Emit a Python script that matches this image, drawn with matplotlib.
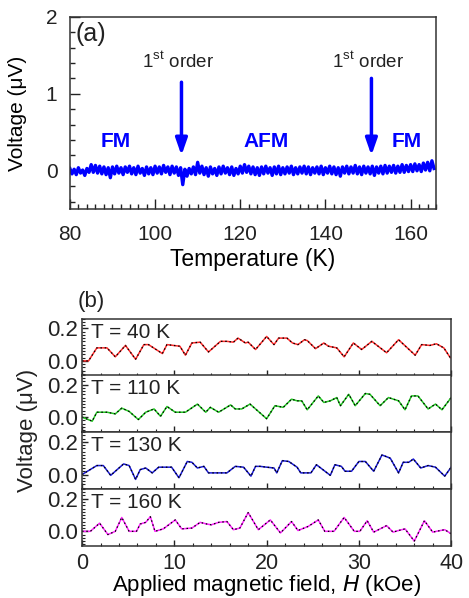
import numpy as np
import matplotlib.pyplot as plt
from matplotlib.ticker import MultipleLocator

plt.rcParams['font.family'] = ['Liberation Sans', 'DejaVu Sans']
plt.rcParams['text.color'] = '#222222'
plt.rcParams['xtick.color'] = '#222222'
plt.rcParams['ytick.color'] = '#222222'

# (a) voltage vs temperature, 0.5 K steps from 80 K
temp_start = 80.0
temp_step = 0.5
volt_T = [
    0.03, -0.04, 0.02, -0.05, 0.04, -0.03, 0.01, -0.06, 0.03, -0.02,
    0.08, -0.02, 0.07, -0.03, 0.06, -0.04, 0.05, -0.05, 0.04, -0.09,
    0.05, -0.04, 0.06, -0.03, 0.04, -0.05, 0.05, -0.02, 0.06, -0.04,
    0.04, -0.05, 0.06, -0.03, 0.03, -0.06, 0.05, -0.04, 0.04, -0.05,
    0.06, -0.03, 0.05, -0.04, 0.07, -0.02, 0.05, -0.05, 0.06, -0.03,
    0.05, -0.06, 0.04, -0.18, 0.02, -0.07, 0.03, -0.04, 0.05, -0.05,
    0.11, -0.03, 0.06, -0.05, 0.04, -0.07, 0.05, -0.04, 0.03, -0.06,
    0.05, -0.04, 0.06, -0.03, 0.04, -0.05, 0.05, -0.06, 0.03, -0.04,
    0.06, -0.03, 0.08, -0.02, 0.06, -0.04, 0.05, -0.05, 0.04, -0.06,
    0.05, -0.04, 0.06, -0.03, 0.04, -0.06, 0.05, -0.04, 0.06, -0.05,
    0.04, -0.04, 0.05, -0.03, 0.06, -0.05, 0.04, -0.04, 0.05, -0.03,
    0.06, -0.04, 0.05, -0.05, 0.04, -0.03, 0.05, -0.04, 0.06, -0.05,
    0.04, -0.03, 0.06, -0.04, 0.05, -0.05, 0.04, -0.07, 0.05, -0.03,
    0.06, -0.04, 0.05, -0.03, 0.07, -0.04, 0.05, -0.05, 0.06, -0.03,
    0.05, -0.04, 0.06, -0.06, 0.05, -0.03, 0.06, -0.04, 0.07, -0.03,
    0.06, -0.02, 0.07, -0.03, 0.06, -0.02, 0.08, -0.02, 0.07, -0.01,
    0.08, -0.01, 0.09, 0.00, 0.08, -0.01, 0.10, 0.01, 0.11, 0.00,
    0.13, 0.03,
]
temps = temp_start + temp_step * np.arange(len(volt_T))

# transitions and phase labels
trans_T = [106.2, 150.8]
phase_names = ['FM', 'AFM', 'FM']
phase_T = [90.8, 126.0, 159.0]

# (b) voltage vs field
H_40 = [0, 0.7, 1.6, 2.7, 3.6, 4.7, 5.8, 6.7, 7.2, 8.7, 9.2, 9.9, 10.6, 11.2, 11.9, 12.8,
        13.7, 15.0, 15.7, 16.4, 16.9, 17.7, 18.0, 18.8, 20.0, 20.8, 21.3, 22.2, 22.8, 23.4,
        24.1, 24.4, 25.3, 26.2, 26.7, 27.6, 28.4, 29.4, 30.3, 31.4, 33.0, 34.3, 36.1, 36.8,
        37.7, 38.4, 39.2, 39.9]
V_40 = [0.0, 0.0, 0.08, 0.08, 0.025, 0.095, 0.01, 0.10, 0.10, 0.045, 0.10, 0.095, 0.09, 0.035,
        0.11, 0.115, 0.055, 0.12, 0.12, 0.115, 0.14, 0.11, 0.115, 0.07, 0.15, 0.10, 0.14, 0.14,
        0.11, 0.10, 0.13, 0.125, 0.075, 0.11, 0.09, 0.08, 0.025, 0.11, 0.07, 0.12, 0.05, 0.13,
        0.035, 0.10, 0.095, 0.105, 0.08, 0.02]

H_110 = [0, 1.1, 1.6, 2.7, 3.6, 4.3, 5.1, 6.1, 6.9, 7.8, 8.5, 9.2, 10.1, 11.2, 12.5, 13.4,
         13.9, 14.8, 16.1, 16.6, 17.3, 18.2, 18.9, 20.0, 20.9, 21.8, 22.7, 23.3, 23.8, 24.4,
         25.6, 26.2, 26.9, 27.6, 28.0, 28.9, 29.6, 30.7, 31.2, 32.3, 33.2, 34.3, 35.0, 35.7,
         36.4, 37.5, 38.3, 39.0, 40.0]
V_110 = [0.0, -0.025, 0.03, 0.03, 0.02, 0.055, 0.035, -0.015, 0.03, 0.05, 0.005, 0.065, 0.03,
         0.03, 0.08, 0.03, 0.06, 0.03, 0.075, 0.05, 0.05, 0.08, 0.045, -0.01, 0.07, 0.06, 0.11,
         0.10, 0.10, 0.045, 0.13, 0.09, 0.10, 0.12, 0.07, 0.14, 0.07, 0.145, 0.14, 0.07, 0.12,
         0.10, 0.045, 0.13, 0.13, 0.05, 0.08, 0.045, 0.12]

H_130 = [0, 1.6, 2.3, 3.1, 4.5, 5.1, 5.8, 6.3, 6.9, 7.6, 8.3, 9.7, 10.5, 11.4, 11.9, 12.5,
         13.2, 13.7, 14.6, 15.7, 16.6, 17.5, 18.3, 18.8, 19.3, 20.0, 20.8, 21.1, 21.7, 22.4,
         23.3, 23.7, 24.8, 25.4, 26.9, 27.4, 28.1, 28.5, 29.2, 30.0, 30.7, 31.6, 32.5, 33.2,
         33.4, 34.3, 34.8, 35.4, 35.9, 36.7, 37.5, 38.3, 39.3, 40.0]
V_130 = [0.0, 0.055, 0.055, -0.005, 0.065, 0.055, -0.03, 0.03, 0.04, 0.01, 0.045, 0.045, -0.02,
         0.08, 0.075, 0.04, 0.05, 0.01, 0.01, 0.01, 0.05, 0.045, -0.01, 0.05, 0.05, 0.045, 0.04,
         0.01, 0.085, 0.08, 0.045, 0.01, 0.01, 0.06, -0.005, 0.06, 0.05, 0.02, 0.02, 0.08, 0.08,
         0.02, 0.12, 0.105, 0.10, 0.01, 0.075, 0.075, 0.095, 0.04, 0.055, 0.045, -0.01, 0.045]

H_160 = [0, 0.9, 1.9, 2.8, 3.6, 4.3, 5.1, 5.9, 6.3, 6.9, 7.4, 7.9, 8.8, 10.1, 10.8, 11.9,
         12.8, 13.5, 14.0, 14.8, 15.7, 16.4, 17.1, 18.0, 19.1, 20.4, 21.5, 22.7, 23.4, 24.5,
         25.6, 26.3, 27.3, 28.4, 29.5, 30.1, 30.9, 31.6, 33.0, 33.7, 34.3, 35.0, 36.0, 37.1,
         38.0, 38.4, 39.3, 40.0]
V_160 = [0.0, 0.0, 0.05, -0.02, 0.0, 0.085, 0.0, 0.0, 0.045, 0.055, 0.09, 0.0, 0.015, 0.07,
         0.015, 0.02, 0.055, 0.045, 0.04, 0.055, 0.06, 0.01, 0.02, 0.115, 0.01, 0.07, -0.01,
         0.06, 0.005, 0.03, 0.07, 0.0, 0.0, 0.085, 0.0, 0.0, 0.065, -0.005, 0.035, -0.005,
         0.005, 0.015, -0.06, 0.065, -0.005, 0.0, 0.01, -0.015]

panels = [
    ('T = 40 K', H_40, V_40, '#ff2a2a'),
    ('T = 110 K', H_110, V_110, '#22c822'),
    ('T = 130 K', H_130, V_130, '#1a1ad8'),
    ('T = 160 K', H_160, V_160, '#ff22ff'),
]

fig = plt.figure(figsize=(4.69, 5.98), dpi=100)

#%% panel (a)
ax = fig.add_axes([0.149, 0.650, 0.781, 0.322])
ax.plot(temps, volt_T, color='#0000ff', lw=2.4)
ax.set_xlim(80, 166)
ax.set_ylim(-0.5, 2)
ax.set_xticks([80, 100, 120, 140, 160])
ax.set_yticks([0, 1, 2])
ax.xaxis.set_minor_locator(MultipleLocator(2))
ax.yaxis.set_minor_locator(MultipleLocator(0.2))
ax.tick_params(which='both', direction='in', top=False, right=False, labelsize=15)
ax.tick_params(which='major', length=7, width=1)
ax.tick_params(which='minor', length=3.5, width=1)
ax.tick_params(axis='x', pad=11)
ax.tick_params(axis='y', pad=9)
for s in ax.spines.values():
    s.set_linewidth(1.1)
    s.set_color('#333333')
ax.set_xlabel('Temperature (K)', fontsize=16.5, labelpad=3)
ax.set_ylabel('Voltage (\u03bcV)', fontsize=15)
ax.yaxis.set_label_coords(-0.117, 0.5)
ax.text(0.015, 0.91, '(a)', transform=ax.transAxes, fontsize=18, va='center')

for t in trans_T:
    ax.annotate('', xy=(t, 0.2), xytext=(t, 1.15 if t < 130 else 1.2),
                arrowprops=dict(arrowstyle='-|>,head_width=0.35,head_length=1.0',
                                color='#0000ff', lw=2.5, shrinkA=0, shrinkB=0))
    ax.text(t - 0.8, 1.28, r'1$^{\mathregular{st}}$ order', fontsize=13.5,
            ha='center', va='bottom')

for name, t in zip(phase_names, phase_T):
    ax.text(t, 0.38, name, color='#0000ff', fontsize=15, fontweight='bold',
            ha='center', va='center')

#%% panel (b)
bottoms = [0.372, 0.278, 0.182, 0.087]
h = 0.0953
axes_b = []
for (label, H, V, col), b in zip(panels, bottoms):
    axb = fig.add_axes([0.175, b, 0.787, h])
    axb.plot(H, V, color=col, lw=1.1)
    axb.plot(H, V, color='black', lw=0.9, ls=(0, (1.2, 2.2)))
    axb.set_xlim(0, 40)
    axb.set_ylim(-0.09, 0.26)
    axb.set_yticks([0.0, 0.2])
    axb.set_yticklabels(['0.0', '0.2'])
    axb.yaxis.set_minor_locator(MultipleLocator(0.02))
    axb.set_xticks([0, 10, 20, 30, 40])
    axb.xaxis.set_minor_locator(MultipleLocator(2))
    axb.tick_params(which='both', direction='in', top=False, right=False, labelsize=16)
    axb.tick_params(which='major', length=4, width=1)
    axb.tick_params(which='minor', length=2.5, width=0.8)
    axb.tick_params(axis='y', pad=3)
    for s in axb.spines.values():
        s.set_linewidth(1.1)
        s.set_color('#333333')
    axb.text(0.025, 0.76, label, transform=axb.transAxes, fontsize=15, va='center')
    if b != bottoms[-1]:
        axb.tick_params(axis='x', labelbottom=False)
    axes_b.append(axb)

axes_b[-1].tick_params(axis='x', pad=5, labelsize=15.5)
axes_b[-1].set_xlabel('Applied magnetic field, $\\mathit{H}$ (kOe)', fontsize=16, labelpad=-1)
fig.text(0.058, 0.281, 'Voltage (\u03bcV)', rotation=90, fontsize=16, ha='center', va='center')
fig.text(0.165, 0.495, '(b)', fontsize=16, va='center')

fig.savefig('out.png', dpi=100)
